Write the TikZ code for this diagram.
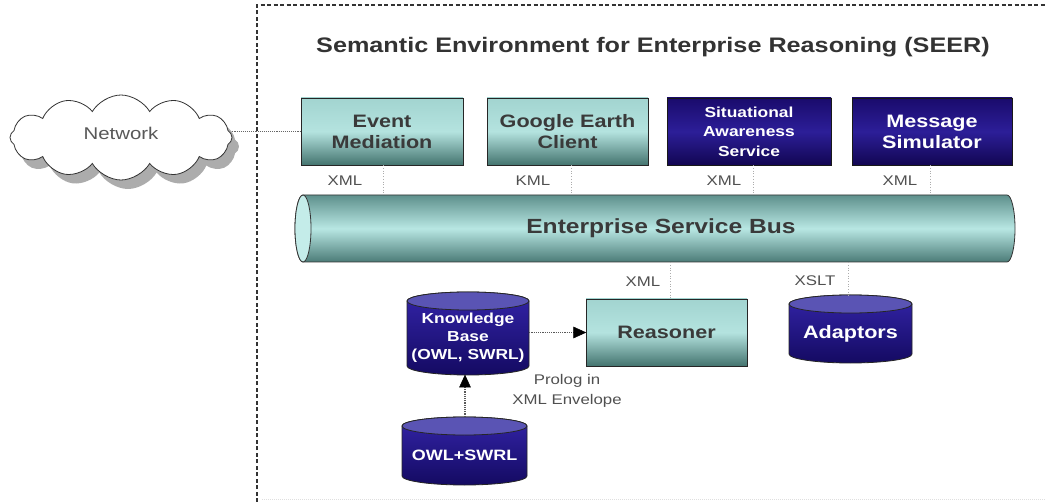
\documentclass[tikz,border=0pt]{standalone}
\usepackage{fontspec}
\setmainfont{Liberation Sans}[FakeStretch=1.2]
\usetikzlibrary{shapes.symbols,shadows,arrows.meta,calc}
\definecolor{tealtop}{HTML}{A2D4D0}
\definecolor{tealmid}{HTML}{B4E3DF}
\definecolor{tealbot}{HTML}{44746F}
\definecolor{bustop}{HTML}{5E908C}
\definecolor{busmid}{HTML}{B8E7E3}
\definecolor{busbot}{HTML}{4B7B77}
\definecolor{busend}{HTML}{C4ECE9}
\definecolor{navytop}{HTML}{1A0B6C}
\definecolor{navymid}{HTML}{2C1E98}
\definecolor{navybot}{HTML}{120652}
\definecolor{cylhi}{HTML}{3324A8}
\definecolor{cyllo}{HTML}{140A62}
\definecolor{cylcap}{HTML}{5A54B4}
\definecolor{txtgray}{HTML}{3A3A3A}
\definecolor{lblgray}{HTML}{505050}
\newcommand\vcyl[5]{%
  \pgfmathsetmacro\cylcx{(#1+#2)/2}%
  \pgfmathsetmacro\cylra{(#2-#1)/2}%
  \path[draw=black!85, line width=0.8pt, top color=cylhi, bottom color=cyllo]
    (#1,-#3-#5) -- (#1,-#4+#5)
    arc[start angle=180, end angle=360, x radius=\cylra, y radius=#5]
    -- (#2,-#3-#5)
    arc[start angle=0, end angle=180, x radius=\cylra, y radius=#5] -- cycle;
  \path[draw=black!85, line width=0.8pt, fill=cylcap]
    (\cylcx,-#3-#5) ellipse[x radius=\cylra, y radius=#5];
}
\begin{document}
\begin{tikzpicture}[x=1pt, y=1pt,
  tealbox/.style={draw=black!85, line width=0.8pt, top color=tealtop, bottom color=tealbot, middle color=tealmid,
    text=txtgray, font=\fontsize{18}{21}\selectfont\bfseries, align=center, inner sep=0pt,
    minimum width=162pt, minimum height=67pt},
  navybox/.style={draw=black!90, line width=0.8pt, top color=navytop, bottom color=navybot, middle color=navymid,
    text=white, font=\fontsize{18}{21}\selectfont\bfseries, align=center, inner sep=0pt,
    minimum width=162pt, minimum height=67pt},
  cyltext/.style={text=white, font=\fontsize{15}{18}\selectfont\bfseries, align=center, inner sep=0pt},
  conn/.style={draw=gray!65, dotted, line width=0.7pt},
  arrline/.style={draw=black!65, dash pattern=on 1.2pt off 1pt, line width=1.2pt},
  arrhead/.style={solid, draw=black, fill=black, line width=0.5pt, line join=miter},
  lbl/.style={text=lblgray, font=\fontsize{14}{20}\selectfont, anchor=base, inner sep=0pt},
]
\useasboundingbox (0,0) rectangle (1046,-502);
\fill[white] (0,0) rectangle (1046,-502);

% frame
\draw[black!80, line width=1.2pt, dash pattern=on 4pt off 2.5pt] (257,-502) -- (257,-5) -- (1046,-5);
\draw[gray!25, densely dotted, line width=1pt] (262,-499) -- (1046,-499);

% title
\node[anchor=base, inner sep=0pt, text=black!80, font=\fontsize{21}{24}\selectfont\bfseries] (title) at (653,-53)
  {Semantic Environment for Enterprise Reasoning (SEER)};

% cloud
\node[cloud, draw=black!80, line width=0.8pt, fill=white, cloud puffs=12, cloud puff arc=120, aspect=2.6,
  minimum width=222pt, minimum height=85pt, inner sep=0pt,
  drop shadow={fill=gray!65, shadow xshift=7pt, shadow yshift=-9pt, opacity=1},
  text=black!65, font=\fontsize{17}{20}\selectfont] (net) at (121,-137.5) {\raisebox{9pt}{Network}};

% top services
\node[tealbox] (em) at (382,-131.5) {Event\\Mediation};
\node[tealbox, minimum width=161pt] (gec) at (567.5,-131.5) {Google Earth\\Client};
\node[navybox, minimum width=164pt, font=\fontsize{14.5}{19.5}\selectfont\bfseries] (sas) at (749,-131.5) {Situational\\Awareness\\Service};
\node[navybox, minimum width=160pt] (ms) at (932,-131.5) {Message\\Simulator};

% cloud connector
\draw[black!60, densely dotted, line width=1.1pt] (net.east |- em.west) -- (em.west);

% bus (horizontal cylinder)
\path[draw=black!80, line width=0.8pt, top color=bustop, bottom color=busbot, middle color=busmid]
  (303,-195) -- (1007,-195) arc[start angle=90, end angle=-90, x radius=8, y radius=33.5]
  -- (303,-262) arc[start angle=270, end angle=90, x radius=8, y radius=33.5] -- cycle;
\path[draw=black!80, line width=0.8pt, fill=busend] (303,-228.5) ellipse[x radius=8, y radius=33.5];
\node[inner sep=0pt, minimum width=712pt, minimum height=67pt, text=txtgray,
  font=\fontsize{20.5}{24}\selectfont\bfseries] (bus) at (661,-228.5) {Enterprise Service Bus};

% top connectors
\path ($(em.south)+(1,0)$) coordinate (c1) ($(gec.south)+(3.5,0)$) coordinate (c2)
      ($(sas.south)+(4,0)$) coordinate (c3) ($(ms.south)+(-2,0)$) coordinate (c4);
\draw[conn] (c1) -- (c1 |- bus.north);
\draw[conn] (c2) -- (c2 |- bus.north);
\draw[conn] (c3) -- (c3 |- bus.north);
\draw[conn] (c4) -- (c4 |- bus.north);
\node[lbl] (x1) at (345,-186) {XML};
\node[lbl] (x2) at (533,-186) {KML};
\node[lbl] (x3) at (724,-186) {XML};
\node[lbl] (x4) at (900,-186) {XML};

% reasoner
\node[tealbox, minimum width=161pt] (rea) at (666.5,-332.5) {Reasoner};
\path ($(rea.north)+(3.5,0)$) coordinate (c5);
\draw[conn] (c5 |- bus.south) -- (c5);
\node[lbl] (x5) at (643,-287) {XML};

% adaptors
\vcyl{789}{912}{295}{363}{9}
\node[cyltext, font=\fontsize{18}{21}\selectfont\bfseries, minimum width=123pt, minimum height=59pt] (adp) at (850.5,-333.5) {Adaptors};
\path ($(adp.north)+(-2.5,9)$) coordinate (c6);
\draw[conn] (c6 |- bus.south) -- (c6);
\node[lbl] (x6) at (815,-286) {XSLT};

% knowledge base
\vcyl{407}{529}{292}{375}{9}
\node[cyltext, font=\fontsize{14.5}{18}\selectfont\bfseries, minimum width=122pt, minimum height=74pt] (kb) at (468,-338) {Knowledge\\Base\\(OWL, SWRL)};

% owl+swrl
\vcyl{402}{527}{417}{485}{9}
\node[cyltext, minimum width=125pt, minimum height=59pt] (owl) at (464.5,-455.5) {OWL+SWRL};

% arrows: dotted shaft, solid filled head
\path ($(owl.north)+(0.5,9)$) coordinate (a1s) (a1s |- kb.south) coordinate (a1e)
      (kb.east |- rea.west) coordinate (a2s);
\draw[arrline] (a1s) -- ($(a1e)+(0,-11)$);
\filldraw[arrhead] (a1e) -- ++(-5.5,-12) -- ++(11,0) -- cycle;
\draw[arrline] (a2s) -- ($(rea.west)+(-11,0)$);
\filldraw[arrhead] (rea.west) -- ++(-12,5.5) -- ++(0,-11) -- cycle;

% prolog label
\node[lbl, align=center, anchor=north] (pro) at (567,-374) {Prolog in\\XML Envelope};
\end{tikzpicture}
\end{document}
